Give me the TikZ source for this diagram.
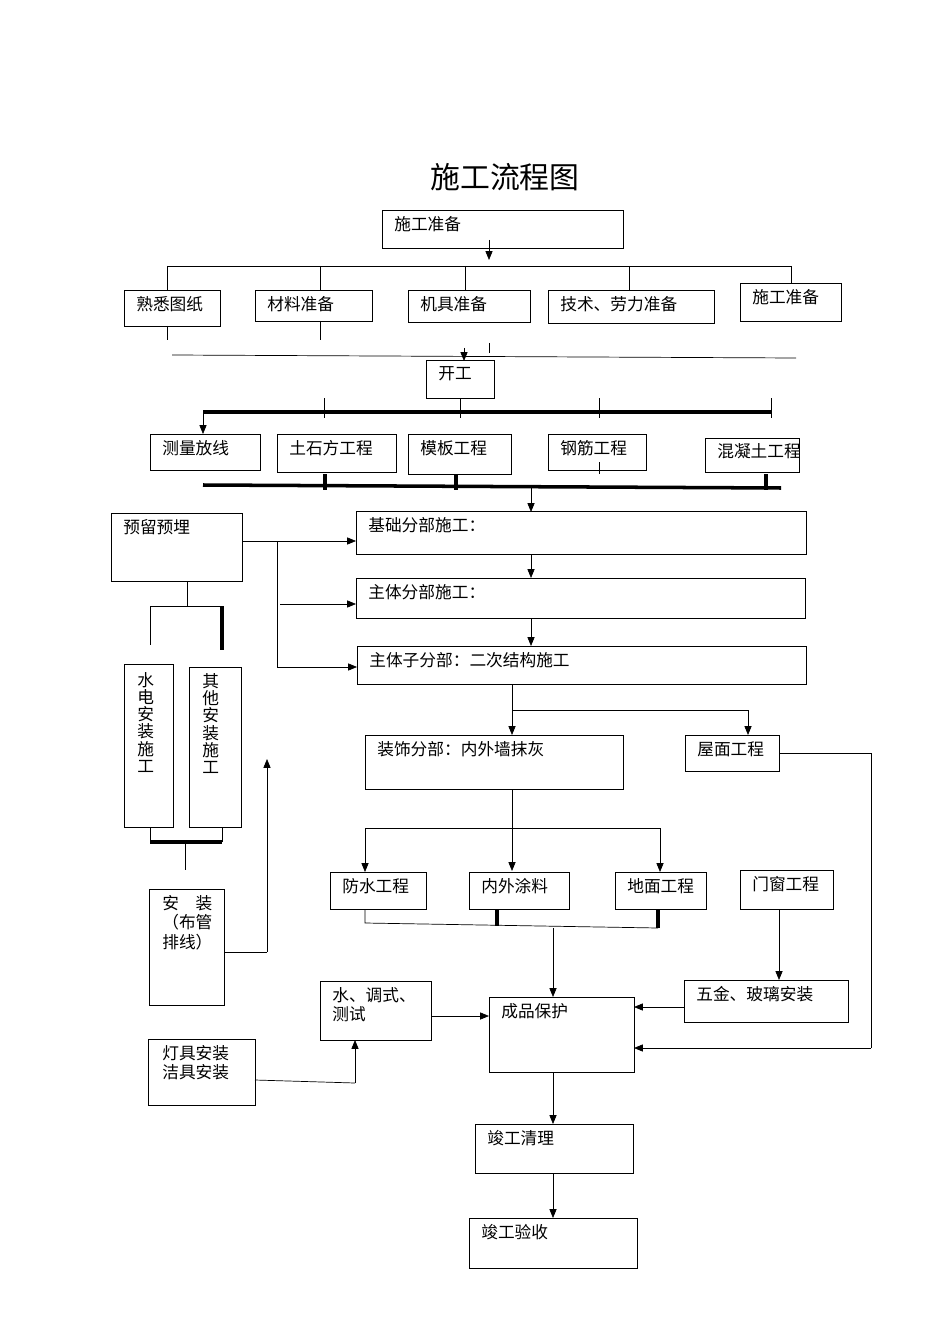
\documentclass[tikz,border=0pt]{standalone}
\usepackage{fontspec}
\setmainfont{Noto Sans CJK SC}
\usetikzlibrary{arrows.meta,calc}
\tikzset{
  box/.style={draw, thin},
  lbl/.style={anchor=north west, inner sep=0pt, font=\fontsize{9.5}{11}\selectfont, align=left},
  arr/.style={-{Triangle[length=5pt,width=4pt]}},
  thk/.style={line width=2pt},
}
% box: name, corner, corner, text
\newcommand{\bx}[4]{\draw[box] (#2) rectangle (#3);
  \node[lbl] (#1) at ($(#2)+(12,6)$) {#4};}
\begin{document}
\begin{tikzpicture}[x=0.02cm,y=-0.02cm]
\useasboundingbox (0,0) rectangle (950,1344);
\node[font=\fontsize{17}{20}\selectfont] (title) at (505,177) {施工流程图};
% preparation
\bx{prep}{382,210}{623,248}{施工准备}
\draw[arr] (489,240) -- (489,260);
\draw (167,266) -- (791,266);
\foreach \x/\y in {167/290,320/290,465/290,629/290,791/283} \draw (\x,266) -- (\x,\y);
\bx{shuxi}{124,290}{220,326}{熟悉图纸}
\bx{cailiao}{255,290}{372,321}{材料准备}
\bx{jiju}{408,290}{530,322}{机具准备}
\bx{jishu}{548,290}{714,323}{技术、劳力准备}
\bx{zhunbei}{740,283}{841,321}{施工准备}
\draw (167,326) -- (167,340) (320,321) -- (320,340) (489,343) -- (489,353);
\draw (172,355) -- (796,358);
\draw[arr] (464,348) -- (464,361);
\bx{kaigong}{426,360}{494,398}{开工}
\draw[thk] (203,412) -- (771,412);
\foreach \x in {324,771} \draw (\x,398) -- (\x,418);
\draw (460,398) -- (460,418) (599,398) -- (599,418);
\draw[arr] (203,412) -- (203,434);
\bx{celiang}{150,434}{260,470}{测量放线}
\bx{tushi}{277,434}{396,472}{土石方工程}
\bx{muban}{408,434}{511,474}{模板工程}
\bx{gangjin}{548,434}{646,470}{钢筋工程}
\draw[box] (705,438) rectangle (799,472);
\begin{scope}
\clip (705,438) rectangle (799,472);
\node[lbl, text width=1.6cm] (hunning) at (717,443) {混凝土工程};
\end{scope}
\draw[thk] (203,485) -- (781,488);
\foreach \x in {325,456,766} \draw[thk] (\x,474) -- (\x,490);
\draw (599,462) -- (599,474);
\draw[arr] (531,486) -- (531,512);
% main structure
\bx{yuliu}{111,513}{242,581}{预留预埋}
\bx{jichu}{356,511}{806,554}{基础分部施工：}
\bx{zhuti}{356,578}{805,618}{主体分部施工：}
\bx{erci}{357,646}{806,684}{主体子分部：二次结构施工}
\draw[arr] (242,541) -- (356,541);
\draw (277,541) -- (277,667);
\draw[arr] (280,604) -- (356,604);
\draw[arr] (277,667) -- (357,667);
\draw[arr] (531,554) -- (531,578);
\draw[arr] (531,618) -- (531,646);
\draw[arr] (512,684) -- (512,735);
\draw (512,710) -- (748,710);
\draw[arr] (748,710) -- (748,735);
\bx{zhuangshi}{365,735}{623,789}{装饰分部：内外墙抹灰}
\bx{wumian}{685,735}{779,771}{屋面工程}
\draw[arr] (512,789) -- (512,871);
\draw (365,828) -- (660,828);
\draw[arr] (365,828) -- (365,872);
\draw[arr] (660,828) -- (660,872);
\bx{fangshui}{330,872}{426,909}{防水工程}
\bx{tuliao}{469,872}{569,909}{内外涂料}
\bx{dimian}{615,872}{706,909}{地面工程}
\bx{menchuang}{740,870}{833,909}{门窗工程}
\draw (365,909) -- (365,923) -- (658,928);
\draw[thk] (497,910) -- (497,926) (658,910) -- (658,928);
\draw[arr] (553,928) -- (553,997);
\draw[arr] (779,909) -- (779,980);
\bx{wujin}{684,980}{848,1022}{五金、玻璃安装}
\bx{chengpin}{489,997}{634,1072}{成品保护}
\draw[arr] (684,1007) -- (634,1007);
\draw (779,753) -- (871,753) -- (871,1048);
\draw[arr] (871,1048) -- (634,1048);
\draw[arr] (553,1072) -- (553,1124);
\bx{qingli}{475,1124}{633,1173}{竣工清理}
\draw[arr] (553,1173) -- (553,1218);
\bx{yanshou}{469,1218}{637,1268}{竣工验收}
\bx{tiaoshi}{320,981}{431,1040}{水、调式、\\测试}
\draw[arr] (431,1016) -- (489,1016);
\draw[box] (148,1039) rectangle (255,1105);
\node[lbl] (dengju) at (162,1045) {灯具安装\\洁具安装};
\draw (255,1080) -- (355,1083);
\draw[arr] (355,1083) -- (355,1040);
% installation branch
\draw (187,581) -- (187,606);
\draw (150,606) -- (222,606);
\draw (150,606) -- (150,645);
\draw[thk] (222,606) -- (222,650);
\draw[box] (124,664) rectangle (173,827);
\node[lbl, align=center, font=\fontsize{9.5}{9.8}\selectfont] (shuidian) at (137,672) {水\\电\\安\\装\\施\\工};
\draw[box] (189,667) rectangle (241,827);
\node[lbl, align=center, font=\fontsize{9.5}{9.8}\selectfont] (qita) at (202,673) {其\\他\\安\\装\\施\\工};
\draw (150,827) -- (150,842) (222,827) -- (222,842);
\draw[thk] (150,842) -- (222,842);
\draw (185,842) -- (185,870);
\draw[box] (149,889) rectangle (224,1005);
\node[lbl] (anzhuang) at (162,895) {安\hspace{1em}装\\（布管\\排线）};
\draw (224,952) -- (267,952);
\draw[arr] (267,952) -- (267,759);
\end{tikzpicture}
\end{document}
